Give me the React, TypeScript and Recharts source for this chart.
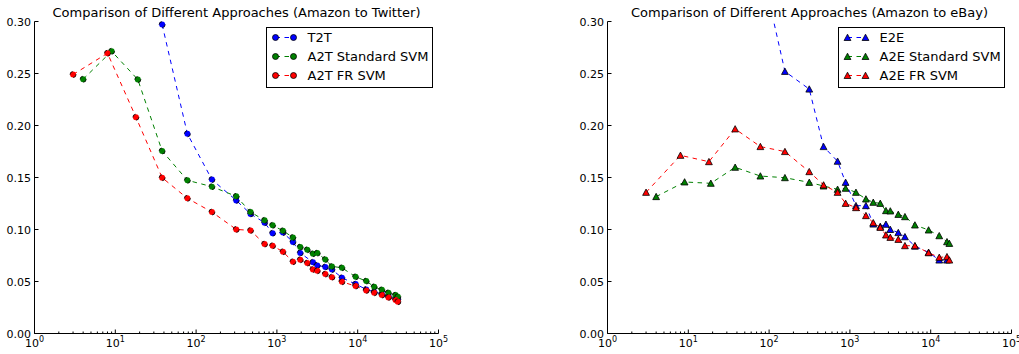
import React from "react";
import { LineChart, Line, XAxis, YAxis, Legend } from "recharts";

const FONT = "'DejaVu Sans', sans-serif";

// axis ticks: decades get a "10^n" label, the rest are minor marks
const decadeExps = [0, 1, 2, 3, 4, 5];
const minorSteps = [2, 3, 4, 5, 6, 7, 8, 9];
const yTicks = [0, 0.05, 0.1, 0.15, 0.2, 0.25, 0.3];

// training set sizes
const smallFR = [3, 8, 18];
const smallStd = [4, 9, 19];
const twitterSizes = [38, 78, 157, 314, 472, 704, 885, 1188, 1579, 1946, 2375, 2792, 3162, 3970, 4800, 6380, 9420, 12760, 16000, 19900, 24000, 29400, 31400];
const ebaySizes = [38, 78, 157, 314, 472, 704, 885, 1188, 1579, 1946, 2375, 2792, 3162, 3970, 4800, 6380, 9420, 12760, 15900, 17000];

// Amazon -> Twitter
const t2t = [0.297, 0.192, 0.148, 0.128, 0.115, 0.1065, 0.0965, 0.097, 0.088, 0.0775, null, 0.0685, 0.0655, 0.064, 0.0615, 0.0536, 0.0475, 0.0424, 0.04, 0.038, 0.036, 0.034, 0.033];
const a2tStdSmall = [0.2445, 0.2714, 0.2442];
const a2tStd = [0.1755, 0.1473, 0.1412, 0.1319, 0.1168, 0.1088, 0.104, 0.0988, 0.0924, 0.0831, 0.0805, 0.0767, 0.0773, 0.0712, 0.0645, 0.0632, 0.0545, 0.0504, 0.0449, 0.042, 0.0391, 0.0369, 0.0353];
const a2tFRSmall = [0.249, 0.2695, 0.208];
const a2tFR = [0.1498, 0.13, 0.1168, 0.1001, 0.0991, 0.086, 0.0844, 0.0786, 0.069, 0.0709, 0.0677, 0.0616, 0.0603, 0.0571, 0.0542, 0.0497, 0.0456, 0.0414, 0.0391, 0.0369, 0.0347, 0.0321, 0.0305];

// Amazon -> eBay
const e2e = [null, 0.357, 0.252, 0.235, 0.1797, 0.1656, 0.1453, 0.1229, 0.1229, 0.1052, 0.103, 0.105, 0.1, 0.097, 0.093, 0.084, 0.078, 0.0706, 0.0706, null];
const a2eStdSmall = [0.1316, 0.1457, 0.1444];
const a2eStd = [0.1598, 0.1514, 0.1498, 0.1453, 0.1418, 0.1386, 0.1396, 0.1357, 0.1293, 0.1261, 0.1251, 0.1181, 0.1178, 0.1145, 0.1123, 0.1043, 0.0995, 0.094, 0.0882, 0.0866];
const a2eFRSmall = [0.1357, 0.1713, 0.1652];
const a2eFR = [0.1967, 0.1797, 0.1749, 0.1556, 0.1428, 0.1357, 0.1251, 0.121, 0.1133, 0.1065, 0.102, 0.0947, 0.0924, 0.0905, 0.0844, 0.0844, 0.0776, 0.0732, 0.0738, 0.0706];

type Pt = { x: number; y: number | null };
const zip = (xs: number[], ys: (number | null)[]): Pt[] => xs.map((x, i) => ({ x, y: ys[i] }));

const xTicks = [
  ...decadeExps.map((e) => 10 ** e),
  ...decadeExps.slice(0, -1).flatMap((e) => minorSteps.map((m) => m * 10 ** e)),
].sort((a, b) => a - b);
const isMajor = (v: number) => decadeExps.some((e) => 10 ** e === v);

const BLUE = "#0000ff";
const GREEN = "#008000";
const RED = "#ff0000";
const DASH = "4.5 4.5";

const BottomTick = (p: any) => {
  const v = p.payload.value;
  const major = isMajor(v);
  return (
    <g>
      <line x1={p.x} x2={p.x} y1={p.y} y2={p.y - (major ? 4 : 2)} stroke="#000" />
      {major && (
        <text x={p.x} y={p.y + 13.5} textAnchor="middle" fontSize={11} fontFamily={FONT} fill="#000">
          10
          <tspan dy={-5} fontSize={8}>
            {Math.round(Math.log10(v))}
          </tspan>
        </text>
      )}
    </g>
  );
};

const TopTick = (p: any) => {
  const major = isMajor(p.payload.value);
  return <line x1={p.x} x2={p.x} y1={p.y} y2={p.y + (major ? 4 : 2)} stroke="#000" />;
};

const LeftTick = (p: any) => (
  <g>
    <line x1={p.x} x2={p.x + 4} y1={p.y} y2={p.y} stroke="#000" />
    <text x={p.x - 3.5} y={p.y + 4} textAnchor="end" fontSize={11} fontFamily={FONT} fill="#000">
      {Number(p.payload.value).toFixed(2)}
    </text>
  </g>
);

const RightTick = (p: any) => <line x1={p.x} x2={p.x - 4} y1={p.y} y2={p.y} stroke="#000" />;

const triPath = (cx: number, cy: number) => `M${cx},${cy - 3.3}L${cx - 3.4},${cy + 3}L${cx + 3.4},${cy + 3}Z`;

const triangleDot = (color: string) => (p: any) => {
  if (p.cx == null || p.cy == null || p.value == null) return <g key={p.index} />;
  return <path key={p.index} d={triPath(p.cx, p.cy)} fill={color} stroke="#000" strokeWidth={0.8} />;
};

const circleDot = (color: string) => ({ r: 3, fill: color, stroke: "#000", strokeWidth: 0.8 });

type Item = { name: string; color: string };

function LegendBox({ items, shape }: { items: Item[]; shape: "circle" | "triangle" }) {
  const mark = (x: number, y: number, c: string) =>
    shape === "circle" ? (
      <circle cx={x} cy={y} r={3} fill={c} stroke="#000" strokeWidth={0.8} />
    ) : (
      <path d={triPath(x, y)} fill={c} stroke="#000" strokeWidth={0.8} />
    );
  return (
    <div style={{ width: 167, height: 61, border: "1px solid #000", boxSizing: "border-box", background: "#fff" }}>
      <svg width={165} height={59} style={{ display: "block" }}>
        {items.map((it, i) => {
          const y = 9.5 + i * 19;
          return (
            <g key={it.name}>
              <line x1={8.5} x2={26.5} y1={y} y2={y} stroke={it.color} strokeDasharray={DASH} />
              {mark(8.5, y, it.color)}
              {mark(26.5, y, it.color)}
              <text x={40.5} y={y + 4.6} fontSize={13} fontFamily={FONT} fill="#000">
                {it.name}
              </text>
            </g>
          );
        })}
      </svg>
    </div>
  );
}

type Series = { name: string; color: string; data: Pt[] };

function Panel({
  left,
  width,
  plotLeft,
  plotRight,
  title,
  series,
  shape,
  legendLeft,
  clip,
}: {
  left: number;
  width: number;
  plotLeft: number;
  plotRight: number;
  title: string;
  series: Series[];
  shape: "circle" | "triangle";
  legendLeft: number;
  clip: boolean;
}) {
  const height = 354;
  return (
    <div style={{ position: "absolute", left, top: 0, width, height }}>
      <div
        style={{
          position: "absolute",
          left: plotLeft,
          width: plotRight - plotLeft,
          top: 6,
          fontSize: 13,
          lineHeight: "13px",
          fontFamily: FONT,
          textAlign: "center",
          whiteSpace: "nowrap",
          color: "#000",
        }}
      >
        {title}
      </div>
      <LineChart
        width={width}
        height={height}
        margin={{ top: 21.5, right: width - plotRight, bottom: 0.5, left: plotLeft - 30 }}
      >
        <XAxis
          xAxisId="b"
          dataKey="x"
          type="number"
          scale="log"
          domain={[1, 100000]}
          ticks={xTicks}
          interval={0}
          allowDataOverflow
          height={20}
          tickSize={0}
          tickMargin={0}
          tickLine={false}
          axisLine={{ stroke: "#000" }}
          tick={BottomTick}
        />
        <XAxis
          xAxisId="t"
          orientation="top"
          type="number"
          scale="log"
          domain={[1, 100000]}
          ticks={xTicks}
          interval={0}
          allowDataOverflow
          height={0}
          tickSize={0}
          tickMargin={0}
          tickLine={false}
          axisLine={{ stroke: "#000" }}
          tick={TopTick}
        />
        <YAxis
          yAxisId="l"
          type="number"
          domain={[0, 0.3]}
          ticks={yTicks}
          interval={0}
          allowDataOverflow={clip}
          width={30}
          tickSize={0}
          tickMargin={0}
          tickLine={false}
          axisLine={{ stroke: "#000" }}
          tick={LeftTick}
        />
        <YAxis
          yAxisId="r"
          orientation="right"
          type="number"
          domain={[0, 0.3]}
          ticks={yTicks}
          interval={0}
          allowDataOverflow
          width={0}
          tickSize={0}
          tickMargin={0}
          tickLine={false}
          axisLine={{ stroke: "#000" }}
          tick={RightTick}
        />
        <Legend
          layout="horizontal"
          verticalAlign="middle"
          align="center"
          wrapperStyle={{ left: legendLeft, top: 27, width: 167, height: 61 }}
          content={() => <LegendBox items={series} shape={shape} />}
        />
        {series.map((s) => (
          <Line
            key={s.name}
            name={s.name}
            data={s.data}
            dataKey="y"
            xAxisId="b"
            yAxisId="l"
            type="linear"
            stroke={s.color}
            strokeWidth={1}
            strokeDasharray={DASH}
            connectNulls
            dot={shape === "circle" ? circleDot(s.color) : triangleDot(s.color)}
            activeDot={false}
            isAnimationActive={false}
          />
        ))}
      </LineChart>
    </div>
  );
}

export default function App() {
  const twitterSeries: Series[] = [
    { name: "T2T", color: BLUE, data: zip(twitterSizes, t2t) },
    { name: "A2T Standard SVM", color: GREEN, data: zip([...smallStd, ...twitterSizes], [...a2tStdSmall, ...a2tStd]) },
    { name: "A2T FR SVM", color: RED, data: zip([...smallFR, ...twitterSizes], [...a2tFRSmall, ...a2tFR]) },
  ];
  const ebaySeries: Series[] = [
    { name: "E2E", color: BLUE, data: zip(ebaySizes, e2e) },
    { name: "A2E Standard SVM", color: GREEN, data: zip([...smallStd, ...ebaySizes], [...a2eStdSmall, ...a2eStd]) },
    { name: "A2E FR SVM", color: RED, data: zip([...smallFR, ...ebaySizes], [...a2eFRSmall, ...a2eFR]) },
  ];
  return (
    <div style={{ position: "absolute", left: 0, top: 0, width: 1019, height: 354, background: "#fff" }}>
      <Panel
        left={0}
        width={509}
        plotLeft={34.5}
        plotRight={438.5}
        title="Comparison of Different Approaches (Amazon to Twitter)"
        series={twitterSeries}
        shape="circle"
        legendLeft={265.5}
        clip={false}
      />
      <Panel
        left={509}
        width={510}
        plotLeft={98.5}
        plotRight={502.5}
        title="Comparison of Different Approaches (Amazon to eBay)"
        series={ebaySeries}
        shape="triangle"
        legendLeft={329}
        clip={true}
      />
    </div>
  );
}
